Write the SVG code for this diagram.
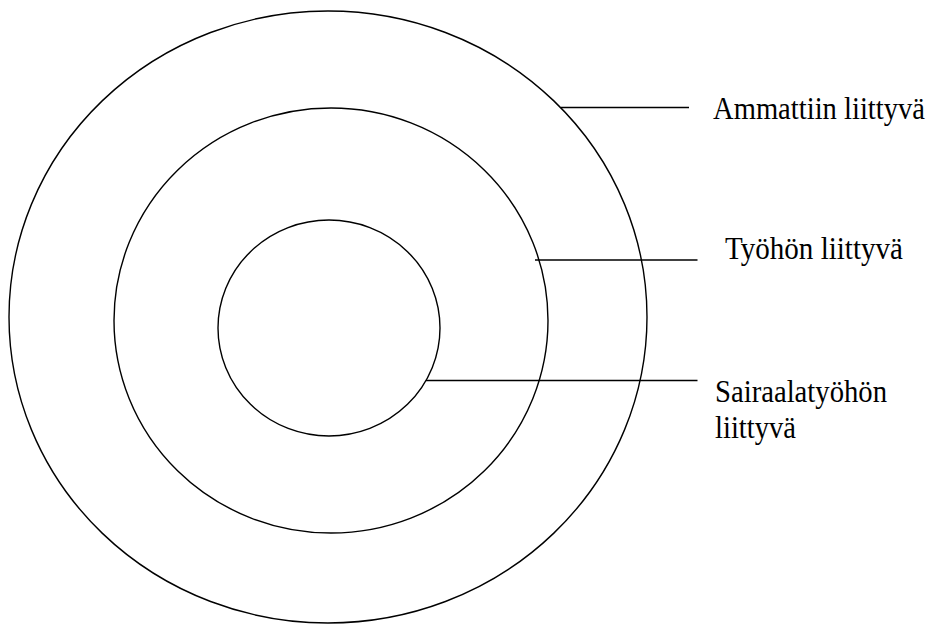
<svg xmlns="http://www.w3.org/2000/svg" width="933" height="624" viewBox="0 0 933 624">
<style>
.ring{fill:none;stroke:#000;stroke-width:1.4}
.conn line{stroke:#000;stroke-width:1.5}
text{font-family:'Liberation Serif','Times New Roman','DejaVu Serif',serif;font-size:31px;fill:#000}
</style>
<rect width="933" height="624" fill="#fff"/>
<g id="outer"><ellipse class="ring" cx="328" cy="317" rx="319" ry="306"/></g>
<g id="middle"><ellipse class="ring" cx="331" cy="320.5" rx="217" ry="212.5"/></g>
<g id="inner"><ellipse class="ring" cx="329" cy="328" rx="111" ry="108"/></g>
<g id="connectors" class="conn">
<line x1="561" y1="107.5" x2="689" y2="107.5"/>
<line x1="535" y1="260" x2="697.5" y2="260"/>
<line x1="426" y1="380.5" x2="697.5" y2="380.5"/>
</g>
<g id="label-ammattiin"><text font-family="Liberation Serif, serif" x="713" y="119" textLength="212" lengthAdjust="spacingAndGlyphs">Ammattiin liittyvä</text></g>
<g id="label-tyohon"><text font-family="Liberation Serif, serif" x="725" y="259" textLength="178" lengthAdjust="spacingAndGlyphs">Työhön liittyvä</text></g>
<g id="label-sairaala"><text font-family="Liberation Serif, serif" x="715" y="401.5" textLength="172" lengthAdjust="spacingAndGlyphs">Sairaalatyöhön</text><text font-family="Liberation Serif, serif" x="715" y="437.5" textLength="81" lengthAdjust="spacingAndGlyphs">liittyvä</text></g>
</svg>
